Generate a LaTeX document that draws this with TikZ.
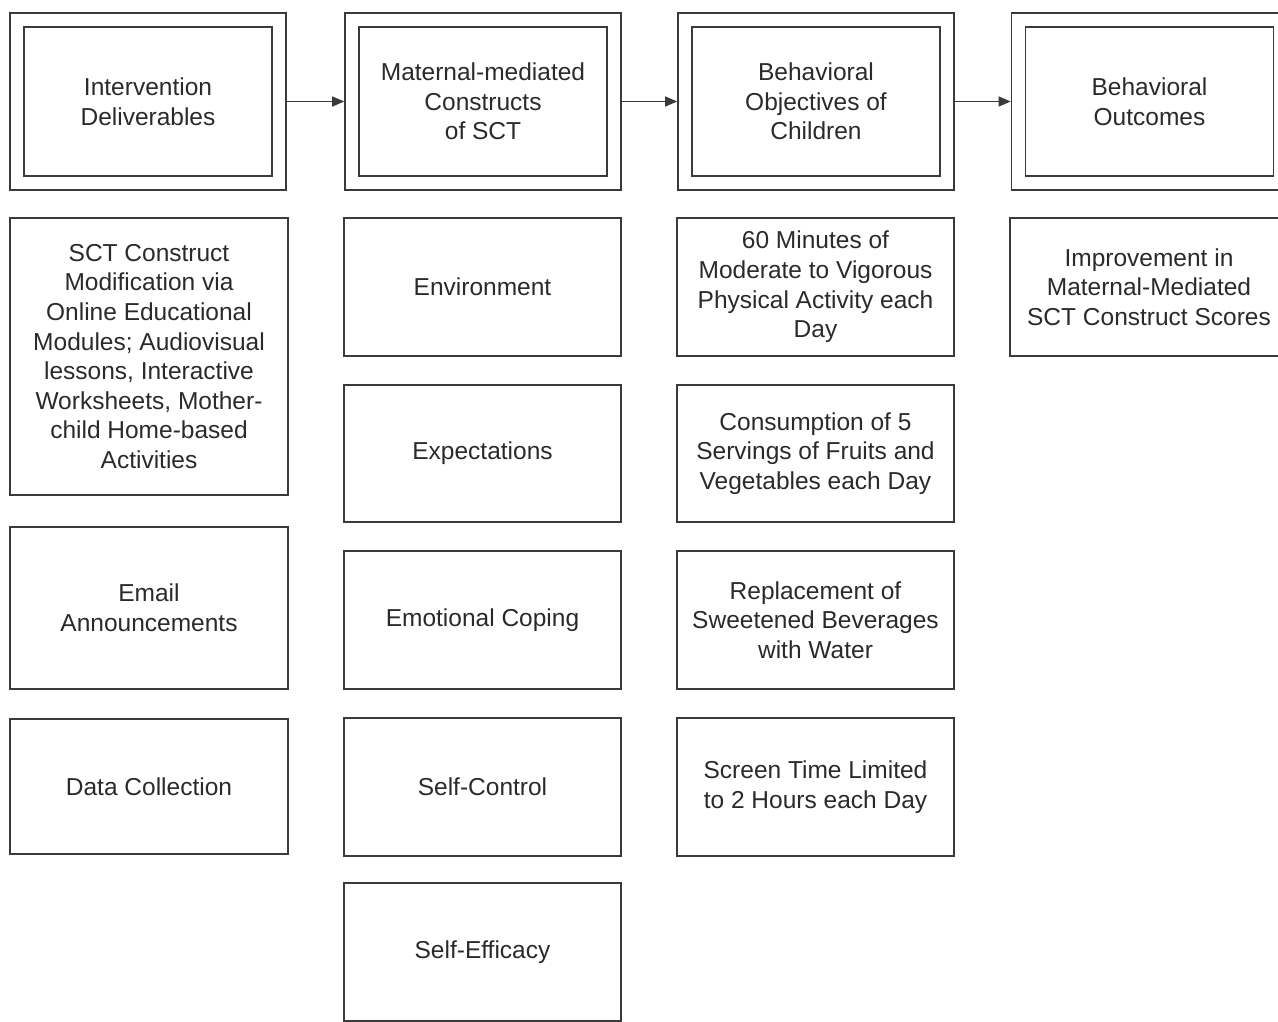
\documentclass[tikz,border=0pt]{standalone}
\usepackage{fontspec}
\setmainfont{Liberation Sans}
\usetikzlibrary{arrows.meta}
\definecolor{linecol}{HTML}{3A3A3A}
\definecolor{txtcol}{HTML}{2A2A2A}
\begin{document}
\begin{tikzpicture}[x=1pt,y=-1pt,
  base/.style={draw=linecol, line width=1.6pt, align=center, inner sep=0pt, text=txtcol,
    font=\fontsize{24.5}{29.6}\selectfont},
  outerbox/.style={base, minimum width=276pt, minimum height=177pt},
  innerbox/.style={base, minimum width=248pt, minimum height=149pt},
  cellbox/.style={base, minimum width=277pt},
  flow/.style={draw=linecol, line width=1.4pt, -{Triangle[length=12pt,width=10pt]}}
]
\useasboundingbox (0,0) rectangle (1278,1021);
% header row
\node[outerbox] (o1) at (148,101.5) {};
\node[innerbox] (i1) at (148,101.5) {Intervention\\Deliverables};
\node[outerbox] (o2) at (483,101.5) {};
\node[innerbox] (i2) at (483,101.5) {Maternal-mediated\\Constructs\\of SCT};
\node[outerbox] (o3) at (816,101.5) {};
\node[innerbox] (i3) at (816,101.5) {Behavioral\\Objectives of\\Children};
\node[outerbox] (o4) at (1149.5,101.5) {};
\node[innerbox] (i4) at (1149.5,101.5) {Behavioral\\Outcomes};
\draw[flow] (o1.east) -- (o2.west);
\draw[flow] (o2.east) -- (o3.west);
\draw[flow] (o3.east) -- (o4.west);
% column 1
\node[cellbox, minimum width=278pt, minimum height=277pt] (a1) at (149,356.5) {SCT Construct\\Modification via\\Online Educational\\Modules; Audiovisual\\lessons, Interactive\\Worksheets, Mother-\\child Home-based\\Activities};
\node[cellbox, minimum width=278pt, minimum height=162pt] (a2) at (149,608) {Email\\Announcements};
\node[cellbox, minimum width=278pt, minimum height=135pt] (a3) at (149,786.5) {Data Collection};
% column 2
\node[cellbox, minimum height=138pt] (b1) at (482.5,287) {Environment};
\node[cellbox, minimum height=137pt] (b2) at (482.5,453.5) {Expectations};
\node[cellbox, minimum height=138pt] (b3) at (482.5,620) {Emotional Coping};
\node[cellbox, minimum height=138pt] (b4) at (482.5,787) {Self-Control};
\node[cellbox, minimum height=138pt] (b5) at (482.5,952) {Self-Efficacy};
% column 3
\node[cellbox, minimum height=138pt] (c1) at (815.5,287) {60 Minutes of\\Moderate to Vigorous\\Physical Activity each\\Day};
\node[cellbox, minimum height=137pt] (c2) at (815.5,453.5) {Consumption of 5\\Servings of Fruits and\\Vegetables each Day};
\node[cellbox, minimum height=138pt] (c3) at (815.5,620) {Replacement of\\Sweetened Beverages\\with Water};
\node[cellbox, minimum height=138pt] (c4) at (815.5,787) {Screen Time Limited\\to 2 Hours each Day};
% column 4
\node[cellbox, minimum width=278pt, minimum height=138pt] (d1) at (1149,287) {Improvement in\\Maternal-Mediated\\SCT Construct Scores};
\end{tikzpicture}
\end{document}
